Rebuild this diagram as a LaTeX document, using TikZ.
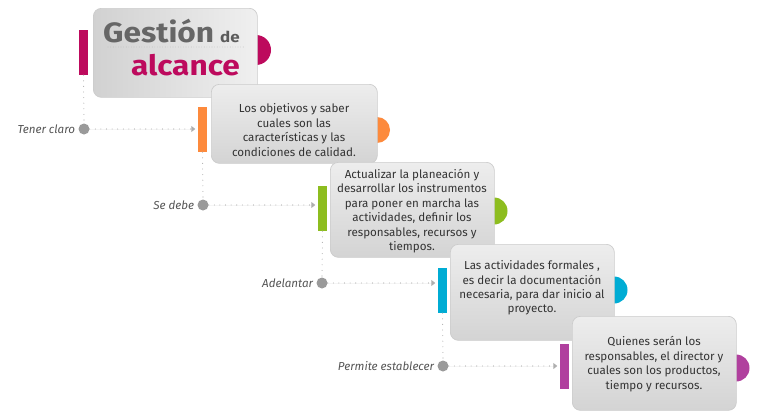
\documentclass[tikz,border=0pt]{standalone}
\usepackage{fontspec}
\setmainfont{Fira Sans}
\newfontfamily\headfont[FakeStretch=1.13]{Fira Sans}
\usetikzlibrary{arrows.meta}
\definecolor{cMag}{HTML}{BD0A5D}
\definecolor{cOra}{HTML}{FD8A3C}
\definecolor{cGrn}{HTML}{8DBD1F}
\definecolor{cCya}{HTML}{00ACD4}
\definecolor{cPur}{HTML}{B0409E}
\definecolor{cTitle}{HTML}{666666}
\definecolor{cText}{HTML}{333333}
\definecolor{cLab}{HTML}{555555}
\definecolor{cDot}{HTML}{9A9A9A}
\begin{document}
\begin{tikzpicture}[x=1pt,y=-1pt,
  card/.style={draw=black!20, line width=0.7pt, rounded corners=8pt,
    top color=black!7, bottom color=black!17, inner sep=0pt, anchor=north west},
  titlecard/.style={card, left color=black!18, right color=black!6},
  bar/.style={rectangle, inner sep=0pt, minimum width=9pt, minimum height=45pt},
  halfdisc/.style={circle, inner sep=0pt, minimum size=27pt},
  knob/.style={circle, fill=cDot, inner sep=0pt, minimum size=11pt},
  cardtext/.style={align=center, text=cText, font=\fontsize{11.6}{14.4}\selectfont, inner sep=0pt},
  lab/.style={anchor=east, text=cLab, font=\fontsize{11.6}{13}\selectfont\itshape, inner sep=0pt},
  dotline/.style={draw=cDot!80, line width=1.1pt, dash pattern=on 0pt off 5.6pt, line cap=round},
  tip/.style={-{Triangle[length=4pt,width=6pt]}, shorten >=2.5pt}
]
\useasboundingbox (0,0) rectangle (758,415);

% ---- title block
\node[halfdisc, fill=cMag, minimum size=30pt] (s0) at (256,50) {};
\node[titlecard, minimum width=164pt, minimum height=89pt] (b0) at (93,8) {};
\node[bar, fill=cMag] (r0) at (83.5,52.5) {};
\node[anchor=base west, inner sep=0pt, text=cTitle,
      font=\headfont\fontsize{28}{30}\selectfont\bfseries] (gest) at (103,42) {Gestión};
\node[anchor=base west, inner sep=0pt, text=cTitle!90!black,
      font=\headfont\fontsize{15}{17}\selectfont\bfseries] (de) at (220,42) {de};
\node[anchor=base east, inner sep=0pt, text=cMag,
      font=\headfont\fontsize{28}{30}\selectfont\bfseries] (alc) at (240,75) {alcance};
\coordinate (u1) at (108,47);
\coordinate (u2) at (245,47);
\draw[draw=black!35, line width=0.6pt, dash pattern=on 0pt off 2.6pt, line cap=round] (u1) -- (u2);

% ---- step 1
\node[halfdisc, fill=cOra, minimum size=26pt] (s1) at (377,130) {};
\node[card, minimum width=166pt, minimum height=79pt] (b1) at (211,84) {};
\node[cardtext] (t1) at (294,130) {Los objetivos y saber\\cuales son las\\características y las\\condiciones de calidad.};
\node[bar, fill=cOra] (r1) at (202.5,129.5) {};
\node[knob] (d1) at (84,129) {};
\node[lab] (l1) at ([xshift=-3pt]d1.west) {Tener claro};
\draw[dotline] (r0.south) -- (d1.north);
\draw[dotline, tip, fill=cDot!80] (d1.east) -- (d1.east -| r1.west);

% ---- step 2
\node[halfdisc, fill=cGrn] (s2) at (494,211) {};
\node[card, minimum width=164pt, minimum height=95pt] (b2) at (330,162) {};
\node[cardtext] (t2) at (412,211) {Actualizar la planeación y\\desarrollar los instrumentos\\para poner en marcha las\\actividades, definir los\\responsables, recursos y\\tiempos.};
\node[bar, fill=cGrn] (r2) at (322.5,208.5) {};
\node[knob] (d2) at (203,205) {};
\node[lab] (l2) at ([xshift=-3pt]d2.west) {Se debe};
\draw[dotline] (r1.south) -- (d2.north);
\draw[dotline, tip, fill=cDot!80] (d2.east) -- (d2.east -| r2.west);

% ---- step 3
\node[halfdisc, fill=cCya] (s3) at (614,290) {};
\node[card, minimum width=164pt, minimum height=96pt] (b3) at (450,244) {};
\node[cardtext] (t3) at (532,288) {Las actividades formales ,\\es decir la documentación\\necesaria, para dar inicio al\\proyecto.};
\node[bar, fill=cCya] (r3) at (442.5,290.5) {};
\node[knob] (d3) at (322,283) {};
\node[lab] (l3) at ([xshift=-3pt]d3.west) {Adelantar};
\draw[dotline] (r2.south) -- (d3.north);
\draw[dotline, tip, fill=cDot!80] (d3.east) -- (d3.east -| r3.west);

% ---- step 4
\node[halfdisc, fill=cPur] (s4) at (736,368) {};
\node[card, minimum width=164pt, minimum height=94pt] (b4) at (572,316) {};
\node[cardtext] (t4) at (654,364) {Quienes serán los\\responsables, el director y\\cuales son los productos,\\tiempo y recursos.};
\node[bar, fill=cPur] (r4) at (564.5,366.5) {};
\node[knob] (d4) at (443,366) {};
\node[lab] (l4) at ([xshift=-3pt]d4.west) {Permite establecer};
\draw[dotline] (r3.south) -- (d4.north);
\draw[dotline, tip, fill=cDot!80] (d4.east) -- (d4.east -| r4.west);
\end{tikzpicture}
\end{document}
